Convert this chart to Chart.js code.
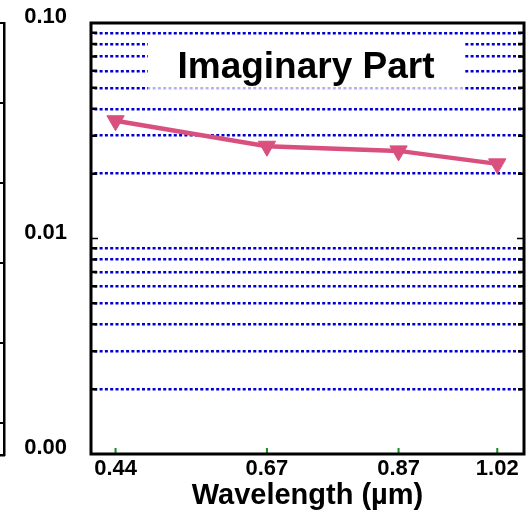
<!DOCTYPE html>
<html>
<head>
<meta charset="utf-8">
<script src="https://cdn.jsdelivr.net/npm/chart.js@4/dist/chart.umd.min.js"></script>
<style>
  html, body { margin: 0; padding: 0; background: #fff; overflow: hidden; }
  #wrap { position: relative; width: 529px; height: 513px; overflow: hidden; }
  #main { position: absolute; left: 0; top: 0; }
  #side { position: absolute; left: -94px; top: 0; }
</style>
</head>
<body>
<div id="wrap">
  <canvas id="side" width="100" height="513"></canvas>
  <canvas id="main" width="529" height="513"></canvas>
</div>
<script>
const wavelengths = [0.44, 0.67, 0.87, 1.02];
const imagPart = [0.0352, 0.0268, 0.0255, 0.0222];
const decades = [0.001, 0.01, 0.1];
const decadeLabels = ["0.00", "0.01", "0.10"];

Chart.defaults.font.family = "'Liberation Sans', Arial, sans-serif";
Chart.defaults.color = "#000";

function isDecade(v) {
    return decades.findIndex(d => Math.abs(v - d) / d < 1e-6);
}

function noPad(s) {
    s.paddingTop = 0; s.paddingBottom = 0;
    s.paddingLeft = 0; s.paddingRight = 0;
}

// white box + title sitting inside the plot, over the grid
const titleBox = {
    id: "titleBox",
    beforeDatasetsDraw(chart) {
        const ctx = chart.ctx;
        ctx.save();
        ctx.fillStyle = "#fff";
        ctx.fillRect(148, 37, 317, 49);
        ctx.fillStyle = "rgba(255,255,255,0.7)";
        ctx.fillRect(148, 86, 317, 4);
        ctx.fillStyle = "#000";
        ctx.font = "bold 37px 'Liberation Sans', Arial, sans-serif";
        ctx.textAlign = "center";
        ctx.textBaseline = "alphabetic";
        ctx.fillText("Imaginary Part", 306, 78);
        ctx.restore();
    }
};

// frame and the inward tick marks
const frame = {
    id: "frame",
    afterDraw(chart) {
        const ctx = chart.ctx;
        const a = chart.chartArea;
        const y = chart.scales.y;
        const x = chart.scales.x;
        ctx.save();
        ctx.strokeStyle = "#000";
        y.ticks.forEach(t => {
            const py = y.getPixelForValue(t.value);
            const major = isDecade(t.value) >= 0;
            ctx.lineWidth = major ? 1.5 : 2.5;
            const len = major ? 7 : 6;
            ctx.beginPath();
            ctx.moveTo(a.left, py); ctx.lineTo(a.left + len, py);
            ctx.moveTo(a.right, py); ctx.lineTo(a.right - len, py);
            ctx.stroke();
        });
        ctx.strokeStyle = "#1a8a2a";
        ctx.lineWidth = 2;
        x.ticks.forEach(t => {
            const px = x.getPixelForValue(t.value);
            ctx.beginPath();
            ctx.moveTo(px, a.bottom); ctx.lineTo(px, a.bottom - 6);
            ctx.stroke();
        });
        ctx.strokeStyle = "#000";
        ctx.lineWidth = 3;
        ctx.strokeRect(a.left, a.top, a.right - a.left, a.bottom - a.top);
        ctx.restore();
    }
};

new Chart(document.getElementById("main"), {
    type: "line",
    data: {
        datasets: [{
            data: wavelengths.map((w, i) => ({ x: w, y: imagPart[i] })),
            borderColor: "#d9507e",
            backgroundColor: "#d9507e",
            borderWidth: 4.5,
            pointStyle: "triangle",
            pointRotation: 180,
            pointRadius: 10,
            pointBorderWidth: 1
        }]
    },
    options: {
        responsive: false,
        animation: false,
        layout: { autoPadding: false, padding: { left: 0, right: 5, top: 23, bottom: 0 } },
        plugins: { legend: { display: false }, tooltip: { enabled: false } },
        scales: {
            x: {
                type: "linear",
                min: 0.4027,
                max: 1.0606,
                afterBuildTicks: s => { s.ticks = wavelengths.map(v => ({ value: v })); },
                afterFit: s => { s.height = 59; noPad(s); },
                grid: { display: false, drawTicks: false },
                border: { display: false },
                ticks: {
                    padding: 2,
                    autoSkip: false,
                    maxRotation: 0,
                    font: { size: 22, weight: "bold" },
                    callback: v => v.toFixed(2)
                },
                title: {
                    display: true,
                    text: "Wavelength (\u00b5m)",
                    font: { size: 29, weight: "bold" },
                    padding: { top: 0, bottom: 0 }
                }
            },
            y: {
                type: "logarithmic",
                min: 0.001,
                max: 0.1,
                afterBuildTicks: s => {
                    const t = [];
                    [0.001, 0.01].forEach(d => {
                        for (let k = 1; k < 10; k++) t.push({ value: k * d });
                    });
                    t.push({ value: 0.1 });
                    s.ticks = t;
                },
                afterFit: s => { s.width = 91; noPad(s); },
                grid: {
                    drawTicks: false,
                    lineWidth: 2.5,
                    color: c => (c.tick && isDecade(c.tick.value) >= 0) ? "rgba(0,0,0,0)" : "#0000d0"
                },
                border: { display: false, dash: [3, 2.3], dashOffset: 2 },
                ticks: {
                    autoSkip: false,
                    padding: 24,
                    labelOffset: -6,
                    font: { size: 22, weight: "bold" },
                    callback: v => {
                        const i = isDecade(v);
                        return i >= 0 ? decadeLabels[i] : "";
                    }
                }
            }
        }
    },
    plugins: [titleBox, frame]
});

// the right edge of the neighbouring panel, only a sliver shows
new Chart(document.getElementById("side"), {
    type: "line",
    data: { datasets: [] },
    options: {
        responsive: false,
        animation: false,
        layout: { autoPadding: false, padding: { left: 0, right: 2, top: 23, bottom: 58 } },
        plugins: { legend: { display: false }, tooltip: { enabled: false } },
        scales: {
            x: {
                type: "linear", min: 0, max: 1,
                afterFit: s => { s.height = 0; noPad(s); },
                ticks: { display: false },
                grid: { display: false, drawTicks: false },
                border: { display: true, color: "#000", width: 2.5 }
            },
            y: {
                type: "linear", position: "right", reverse: true,
                min: 0, max: 5.4,
                afterFit: s => { s.width = 0; noPad(s); },
                ticks: { display: false, stepSize: 1 },
                grid: { color: "#000", lineWidth: 2, drawTicks: false },
                border: { display: true, color: "#000", width: 2.5 }
            }
        }
    }
});
</script>
</body>
</html>
